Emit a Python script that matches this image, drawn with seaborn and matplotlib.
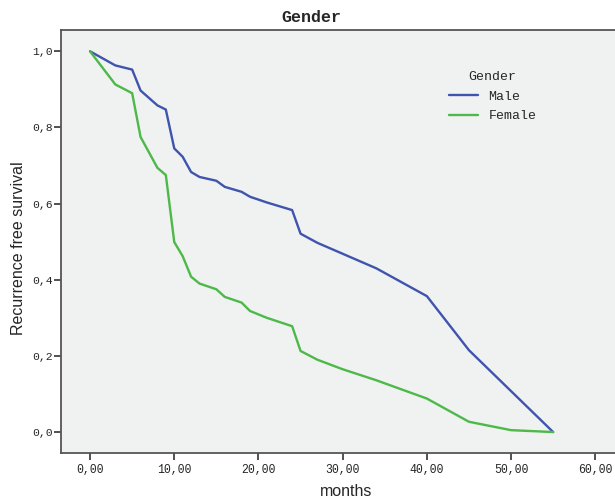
import numpy as np
import pandas as pd
import matplotlib
matplotlib.use("Agg")
import matplotlib.pyplot as plt
import seaborn as sns

male_months = [0, 3, 5, 6, 8, 9, 10, 11, 12, 13, 15, 16, 18, 19, 21, 24, 25, 27, 34, 40, 45, 55]
male_surv = [1.0, 0.963, 0.952, 0.897, 0.858, 0.847, 0.745, 0.723, 0.683, 0.670, 0.660, 0.644, 0.631, 0.618, 0.603, 0.583, 0.521, 0.497, 0.430, 0.357, 0.215, 0.0]
female_months = [0, 3, 5, 6, 8, 9, 10, 11, 12, 13, 15, 16, 18, 19, 21, 24, 25, 27, 30, 34, 40, 45, 50, 55]
female_surv = [1.0, 0.913, 0.890, 0.775, 0.694, 0.675, 0.499, 0.462, 0.408, 0.390, 0.375, 0.355, 0.340, 0.318, 0.300, 0.278, 0.213, 0.190, 0.165, 0.136, 0.088, 0.027, 0.005, 0.0]
x_ticks = [0, 10, 20, 30, 40, 50, 60]
x_tick_labels = ["0,00", "10,00", "20,00", "30,00", "40,00", "50,00", "60,00"]
y_ticks = [0.0, 0.2, 0.4, 0.6, 0.8, 1.0]
y_tick_labels = ["0,0", "0,2", "0,4", "0,6", "0,8", "1,0"]

df = pd.DataFrame({
    "months": male_months + female_months,
    "surv": male_surv + female_surv,
    "Gender": ["Male"] * len(male_months) + ["Female"] * len(female_months),
})

sns.set_style("white")
mono = ["Liberation Mono", "DejaVu Sans Mono"]
sans = ["Liberation Sans", "DejaVu Sans"]

fig = plt.figure(figsize=(6.15, 4.99), dpi=100)
ax = fig.add_axes([61 / 615, 46 / 499, 557 / 615, 423 / 499])
ax.set_facecolor("#F0F1F1")

sns.lineplot(data=df, x="months", y="surv", hue="Gender", sort=False, estimator=None,
             palette={"Male": "#3F54AE", "Female": "#4CB948"}, linewidth=1.7, ax=ax)

ax.set_xlim(-3.45, 62.7)
ax.set_ylim(-0.055, 1.056)
ax.set_xticks(x_ticks)
ax.set_xticklabels(x_tick_labels, family=mono, fontsize=8.3)
ax.set_yticks(y_ticks)
ax.set_yticklabels(y_tick_labels, family=mono, fontsize=8.2)
ax.tick_params(axis="both", direction="out", length=5, width=1.2, color="#333333", left=True, bottom=True)
ax.tick_params(axis="y", pad=0.8)
ax.tick_params(axis="x", pad=3)

for s in ["left", "top", "bottom"]:
    ax.spines[s].set_color("#555555")
    ax.spines[s].set_linewidth(1.3)
ax.spines["right"].set_visible(False)

ax.set_xlabel("")
ax.set_ylabel("")
fig.text(346 / 615, 1 - 492 / 499, "months", family=sans, fontsize=11.5, ha="center", va="center")
fig.text(19 / 615, 1 - 248 / 499, "Recurrence free survival", family=sans, fontsize=11.5,
         ha="center", va="center", rotation=90)
fig.text(311 / 615, 1 - 18 / 499, "Gender", family=mono, fontsize=12, fontweight="bold",
         ha="center", va="center")

leg = ax.legend(title="Gender", loc="upper left", bbox_to_anchor=(0.675, 0.93), frameon=False,
                prop={"family": mono, "size": 9.5}, handlelength=2.2, labelspacing=0.55)
leg.get_title().set_fontfamily(mono)
leg.get_title().set_fontsize(9.5)

fig.savefig("out.png", dpi=100, facecolor="white")
